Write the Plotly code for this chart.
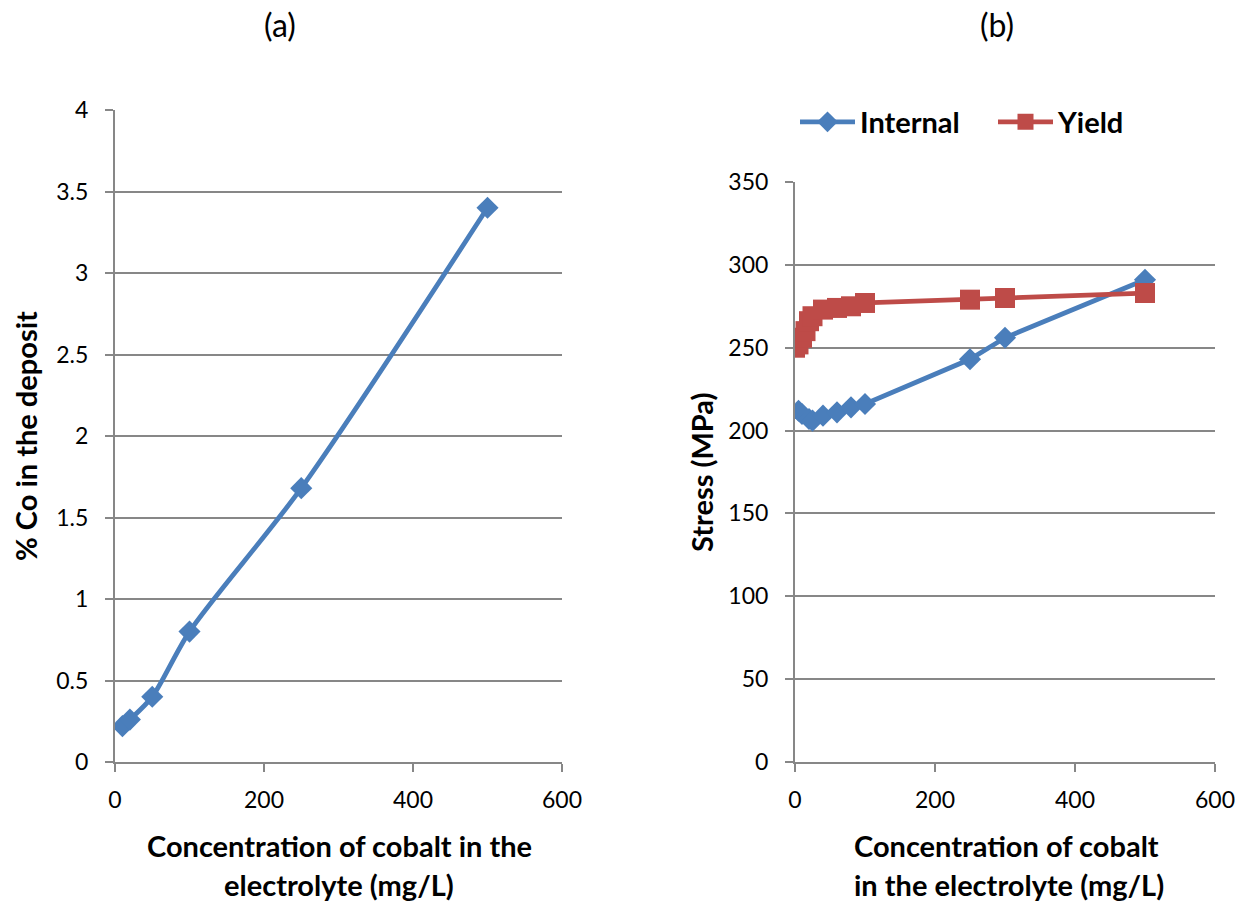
import plotly.graph_objects as go

# (a) cobalt content of the deposit
conc_a = [10, 20, 50, 100, 250, 500]
co_pct = [0.22, 0.26, 0.40, 0.80, 1.68, 3.40]

# (b) internal and yield stress
conc_int = [5, 10, 20, 25, 40, 60, 80, 100, 250, 300, 500]
internal = [212, 210, 207, 206, 209, 211, 214, 216, 243, 256, 291]
conc_yld = [0, 5, 10, 15, 20, 25, 40, 60, 80, 100, 250, 300, 500]
yield_s = [250, 252, 256, 260, 266, 269, 273, 274, 275, 277, 279, 280, 283]

BLUE = "#4A7EBB"
RED = "#BE4B48"
GRID = "#878787"
FONT = "Lato, Open Sans, sans-serif"

W, H = 1250, 904


def px(x):
    return x / W


def py(y):
    return 1 - y / H


fig = go.Figure()

fig.add_trace(go.Scatter(
    x=conc_a, y=co_pct, mode="lines+markers",
    line=dict(color=BLUE, width=4.8, shape="spline", smoothing=0.8),
    marker=dict(symbol="diamond", size=17, color=BLUE), showlegend=False,
    xaxis="x", yaxis="y"))

fig.add_trace(go.Scatter(
    x=conc_int, y=internal, name="Internal", mode="lines+markers",
    line=dict(color=BLUE, width=4.8), marker=dict(symbol="diamond", size=17, color=BLUE),
    xaxis="x2", yaxis="y2"))
fig.add_trace(go.Scatter(
    x=conc_yld, y=yield_s, name="Yield", mode="lines+markers",
    line=dict(color=RED, width=4.8), marker=dict(symbol="square", size=20, color=RED),
    xaxis="x2", yaxis="y2"))

axis_common = dict(
    showgrid=False, zeroline=False, showline=True, linecolor=GRID, linewidth=2,
    ticks="outside", ticklen=8, tickcolor=GRID, tickwidth=2,
    tickfont=dict(family=FONT, size=23, color="#000"),
)
xaxis_common = dict(axis_common, ticklabelstandoff=8)
yaxis_common = dict(axis_common, showgrid=True, gridcolor=GRID, gridwidth=2,
                    ticklabelstandoff=12)

title_font = dict(family=FONT, size=29, color="#000")

annotations = [
    dict(text="(a)", x=px(280), y=py(25), font=dict(size=32, family=FONT, color="#000")),
    dict(text="(b)", x=px(997), y=py(25), font=dict(size=32, family=FONT, color="#000")),
    dict(text="<b>Concentration of cobalt in the</b>", x=px(339), y=py(845), font=title_font),
    dict(text="<b>electrolyte (mg/L)</b>", x=px(339), y=py(884), font=title_font),
    dict(text="<b>Concentration of cobalt</b>", x=px(1006), y=py(845), font=title_font),
    dict(text="<b>in the electrolyte (mg/L)</b>", x=px(1009), y=py(884), font=title_font),
    dict(text="<b>% Co in the deposit</b>", x=px(25), y=py(436), textangle=-90, font=title_font),
    dict(text="<b>Stress (MPa)</b>", x=px(701), y=py(472), textangle=-90, font=title_font),
]
for a in annotations:
    a.update(xref="paper", yref="paper", showarrow=False, xanchor="center", yanchor="middle")

fig.update_layout(
    width=W, height=H,
    margin=dict(l=0, r=0, t=0, b=0, autoexpand=False),
    plot_bgcolor="white", paper_bgcolor="white",
    font=dict(family=FONT, color="#000"),
    xaxis=dict(xaxis_common, domain=[px(115), px(562)], range=[0, 600], dtick=200, anchor="y"),
    yaxis=dict(yaxis_common, domain=[py(762), py(110)], range=[0, 4], dtick=0.5, anchor="x"),
    xaxis2=dict(xaxis_common, domain=[px(795), px(1215)], range=[0, 600], dtick=200, anchor="y2"),
    yaxis2=dict(yaxis_common, domain=[py(762), py(182)], range=[0, 350], dtick=50, anchor="x2"),
    legend=dict(orientation="h", x=px(795), y=py(122), xanchor="left", yanchor="middle",
                font=dict(family=FONT, size=29, color="#000", weight="bold"),
                itemwidth=55, entrywidth=128, bgcolor="rgba(0,0,0,0)"),
    annotations=annotations,
)

fig.write_html("out.html")
